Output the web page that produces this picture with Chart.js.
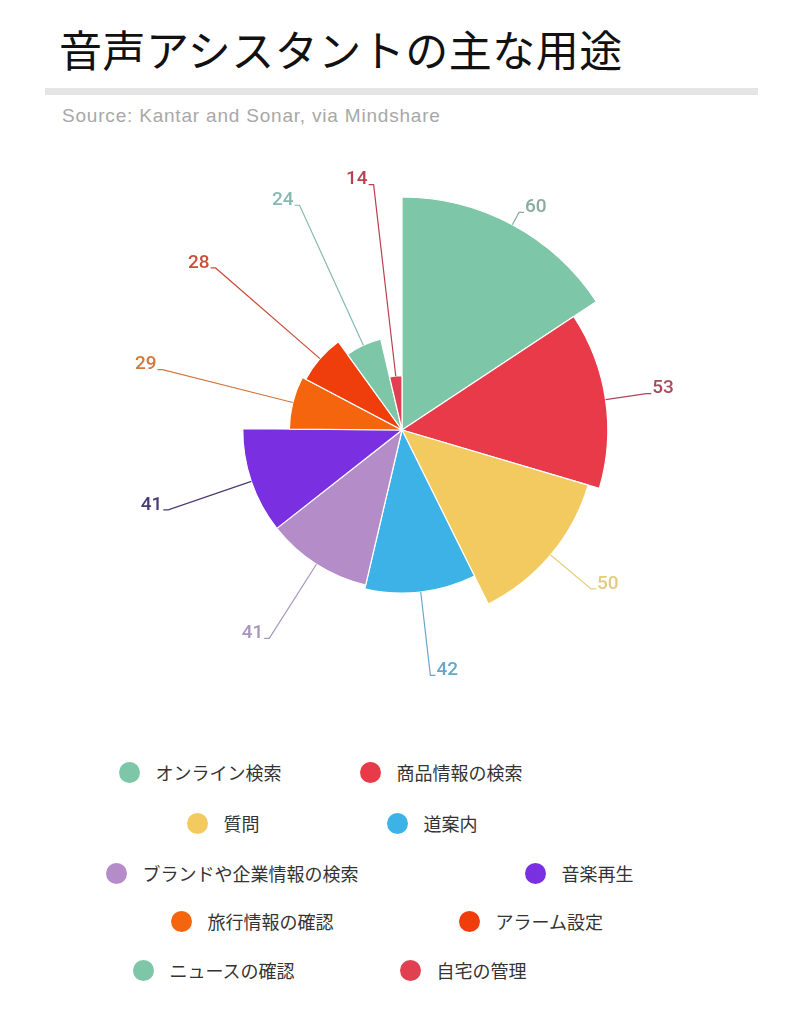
<!DOCTYPE html>
<html lang="ja">
<head>
<meta charset="utf-8">
<script src="https://cdn.jsdelivr.net/npm/chart.js@4.4.1/dist/chart.umd.min.js"></script>
<style>
  html, body { margin: 0; padding: 0; background: #fff; }
  body { width: 800px; height: 1022px; position: relative; overflow: hidden;
         font-family: "Noto Sans CJK JP", "Noto Sans", sans-serif; }
  #title { position: absolute; left: 59px; top: 22px; font-size: 43px; line-height: 52px;
           color: #111; white-space: nowrap; font-weight: 400; letter-spacing: 0.5px; }
  #rule { position: absolute; left: 45px; top: 88px; width: 713px; height: 7px; background: #e5e5e5; }
  #source { position: absolute; left: 62px; top: 104px; font-family: "Liberation Sans", Arial, sans-serif;
            font-size: 19px; line-height: 24px; color: #a8a8a8; white-space: nowrap; letter-spacing: 0.8px; }
  #wrap { position: absolute; left: 0; top: 150px; width: 800px; height: 560px; }
  .lg { position: absolute; display: flex; align-items: center; white-space: nowrap;
        font-size: 18px; color: #333; height: 24px; }
  .lg .dot { width: 21px; height: 21px; border-radius: 50%; margin-right: 16px; flex: none; }
</style>
</head>
<body>
<div id="title">音声アシスタントの主な用途</div>
<div id="rule"></div>
<div id="source">Source: Kantar and Sonar, via Mindshare</div>
<div id="wrap"><canvas id="c"></canvas></div>
<div id="legend"></div>
<script>
// ---- data ----
const categories = ["オンライン検索", "商品情報の検索", "質問", "道案内", "ブランドや企業情報の検索",
                    "音楽再生", "旅行情報の確認", "アラーム設定", "ニュースの確認", "自宅の管理"];
const values = [60, 53, 50, 42, 41, 41, 29, 28, 24, 14];

// ---- styles ----
const colors = ["#7dc6a7", "#e93a4a", "#f3ca5f", "#3db2e6", "#b48cc8",
                "#7a2fe0", "#f5650e", "#f03d0c", "#7dc6a7", "#e0404f"];
const labelColors = ["#8aaba0", "#a84a5c", "#e2cd7e", "#66a8cc", "#a796bd",
                     "#4a3a74", "#d2783e", "#c8503a", "#86b8ae", "#b8404f"];
// legend layout: circle-centre x per item, and row y centres
const legendX = [129, 370, 197, 397, 116, 535, 181, 469, 143, 410];
const legendRowY = [772, 823, 873, 921, 970];

const total = values.reduce((a, b) => a + b, 0);

const labelPlugin = {
  id: 'roseLabels',
  afterDatasetsDraw(chart) {
    const ctx = chart.ctx;
    const meta = chart.getDatasetMeta(0);
    const scale = chart.scales.r;
    const maxR = scale.drawingArea;
    ctx.save();
    ctx.font = '500 19px Roboto, "Noto Sans", sans-serif';
    ctx.lineWidth = 1.2;
    meta.data.forEach((arc, i) => {
      const p = arc.getProps(['x', 'y', 'startAngle', 'endAngle', 'outerRadius'], true);
      const mid = (p.startAngle + p.endAngle) / 2;
      const c = Math.cos(mid), s = Math.sin(mid);
      const x1 = p.x + p.outerRadius * c, y1 = p.y + p.outerRadius * s;
      const r2 = maxR + 14;
      const x2 = p.x + r2 * c, y2 = p.y + r2 * s;
      const dir = c >= 0 ? 1 : -1;
      const x3 = x2 + dir * 5;
      ctx.strokeStyle = labelColors[i];
      ctx.beginPath();
      ctx.moveTo(x1, y1);
      ctx.lineTo(x2, y2);
      ctx.lineTo(x3, y2);
      ctx.stroke();
      ctx.fillStyle = labelColors[i];
      ctx.textAlign = dir > 0 ? 'left' : 'right';
      ctx.textBaseline = 'middle';
      ctx.fillText(String(values[i]), x3 + dir * 1, y2 - 5);
    });
    ctx.restore();
  }
};

new Chart(document.getElementById('c'), {
  type: 'polarArea',
  data: {
    labels: categories,
    datasets: [{
      data: values,
      backgroundColor: colors,
      borderColor: '#ffffff',
      borderWidth: 1.2,
      angle: (ctx) => values[ctx.dataIndex] / total * 360
    }]
  },
  options: {
    responsive: true,
    maintainAspectRatio: false,
    animation: false,
    layout: { padding: { top: 47, bottom: 47, left: 4, right: 0 } },
    plugins: { legend: { display: false }, tooltip: { enabled: false } },
    scales: {
      r: {
        min: 0, max: 60,
        startAngle: 0,
        grid: { display: false },
        angleLines: { display: false },
        ticks: { display: false },
        pointLabels: { display: false }
      }
    }
  },
  plugins: [labelPlugin]
});

// ---- HTML legend ----
const legend = document.getElementById('legend');
categories.forEach((name, i) => {
  const d = document.createElement('div');
  d.className = 'lg';
  d.style.left = (legendX[i] - 10.5) + 'px';
  d.style.top = (legendRowY[Math.floor(i / 2)] - 12) + 'px';
  const dot = document.createElement('span');
  dot.className = 'dot';
  dot.style.background = colors[i];
  const t = document.createElement('span');
  t.textContent = name;
  d.appendChild(dot);
  d.appendChild(t);
  legend.appendChild(d);
});
</script>
</body>
</html>
